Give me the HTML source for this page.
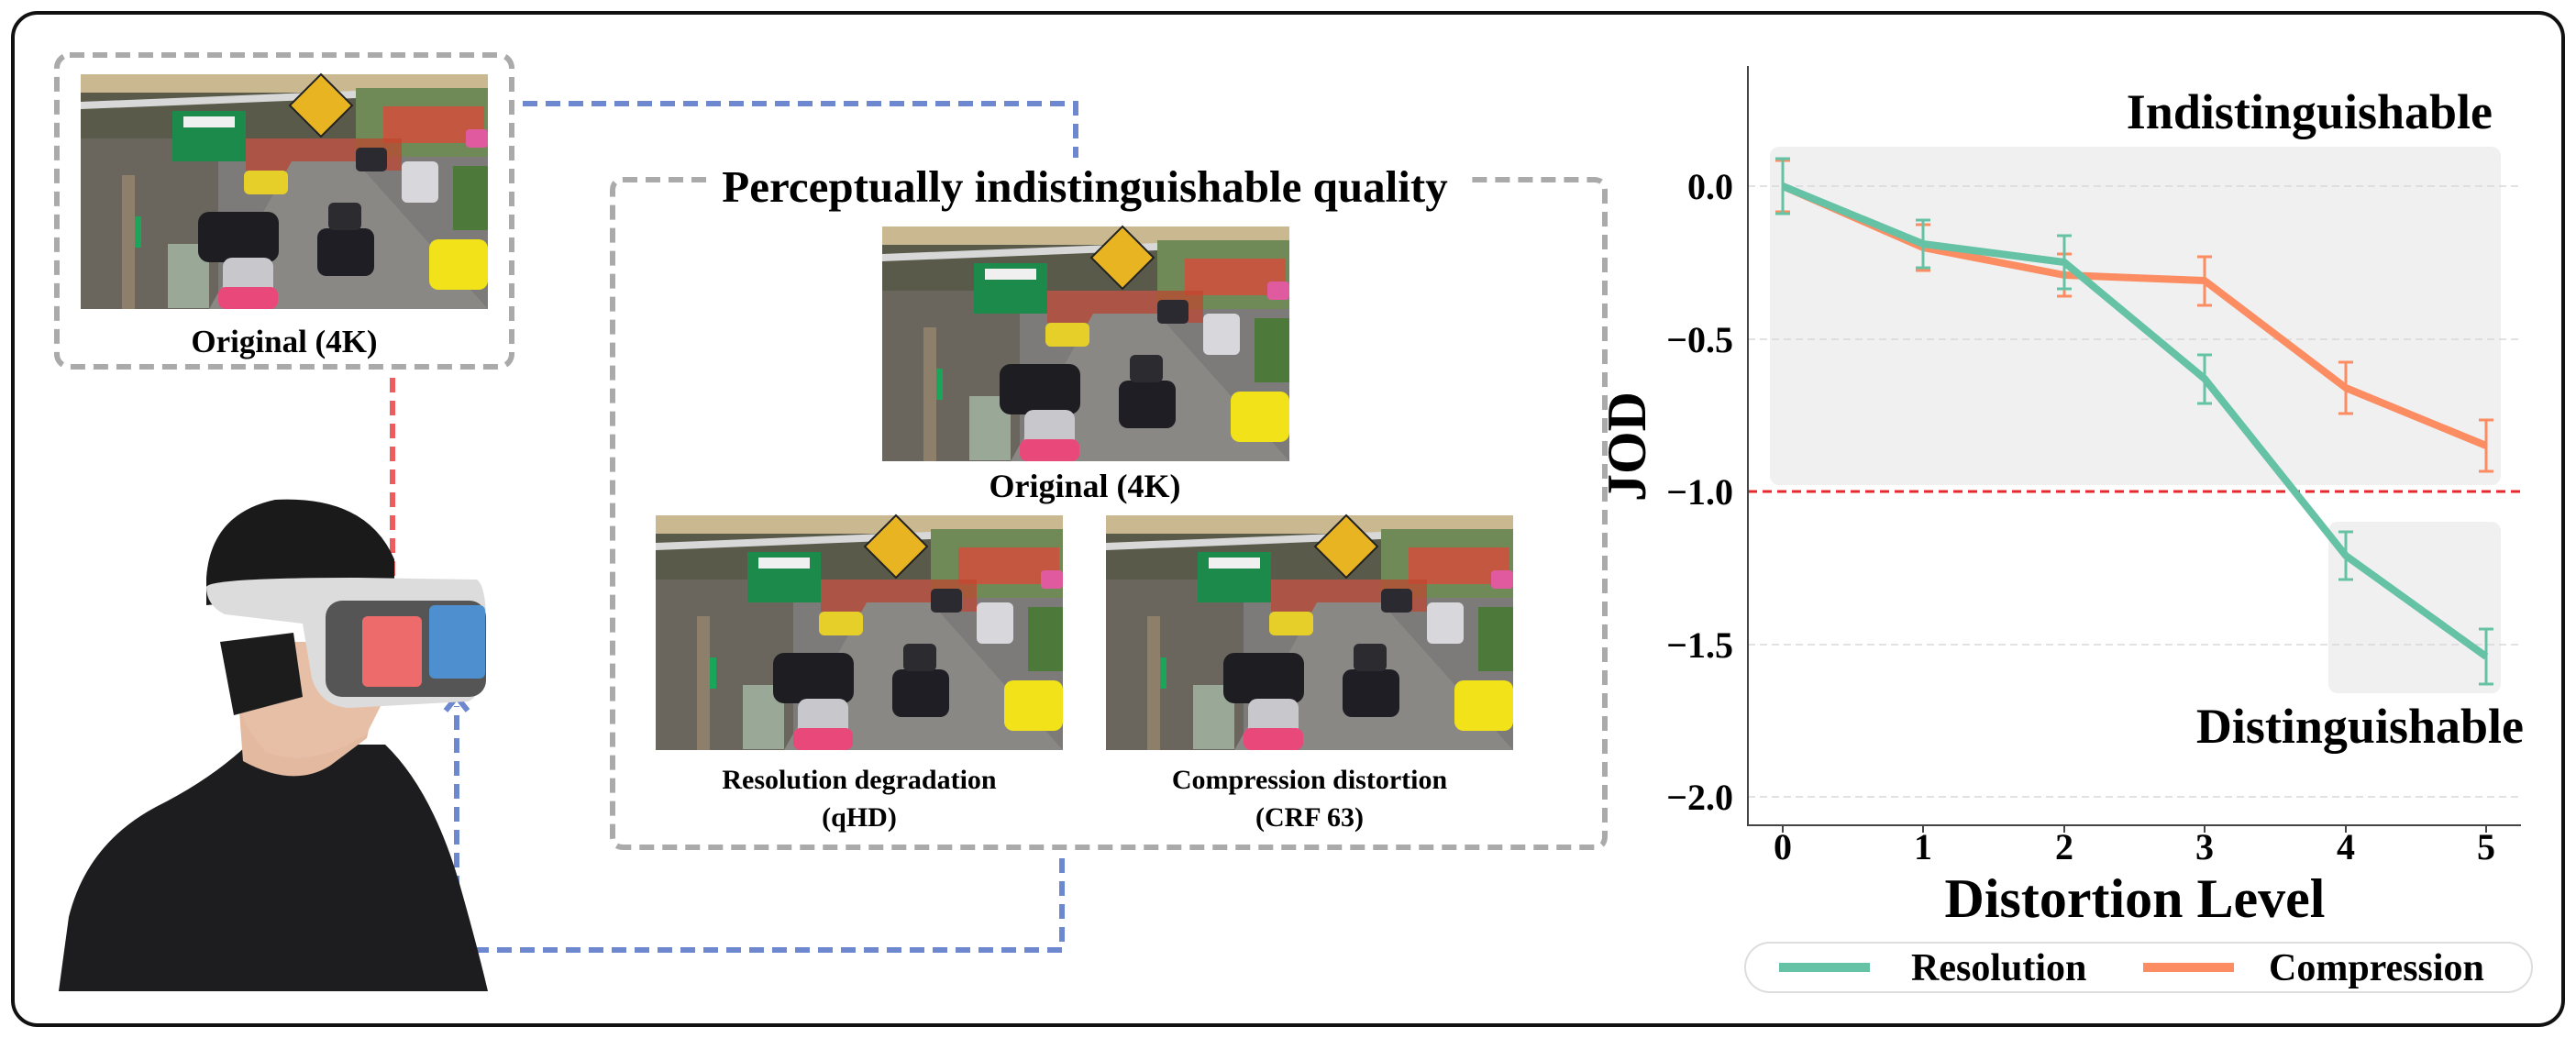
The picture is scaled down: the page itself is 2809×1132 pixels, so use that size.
<!DOCTYPE html>
<html><head><meta charset="utf-8"><style>
html,body{margin:0;padding:0;background:#fff;}
svg{display:block;}
text{font-family:"Liberation Serif",serif;font-weight:bold;fill:#000;}
</style></head><body>
<svg width="2809" height="1132" viewBox="0 0 2809 1132" xmlns="http://www.w3.org/2000/svg">
<defs>
<g id="scene">
  <rect x="0" y="0" width="444" height="256" fill="#7d7b7a"/>
  <rect x="0" y="0" width="444" height="70" fill="#5a5a4a"/>
  <rect x="0" y="0" width="444" height="20" fill="#c9b890"/>
  <polygon points="0,30 300,18 300,26 0,38" fill="#d8d8d8"/>
  <rect x="300" y="15" width="144" height="75" fill="#6f8a56"/>
  <rect x="330" y="35" width="110" height="40" fill="#d94a3a" opacity="0.8"/>
  <rect x="0" y="70" width="150" height="186" fill="#6a665e"/>
  <rect x="100" y="40" width="80" height="55" fill="#1c8a4a"/>
  <rect x="112" y="46" width="56" height="12" fill="#f0f0f0"/>
  <polygon points="262,0 296,34 262,68 228,34" fill="#e8b421" stroke="#222" stroke-width="2"/>
  <rect x="180" y="70" width="170" height="35" fill="#c0452f" opacity="0.7"/>
  <polygon points="140,256 230,95 300,95 444,256" fill="#8a8885"/>
  <rect x="95" y="185" width="45" height="70" fill="#9aa898"/>
  <rect x="48" y="155" width="18" height="34" fill="#1aa55a"/>
  <rect x="45" y="110" width="14" height="146" fill="#8d7f6a"/>
  <rect x="128" y="150" width="88" height="55" rx="12" fill="#1e1e22"/>
  <rect x="178" y="105" width="48" height="26" rx="6" fill="#e5cf28"/>
  <rect x="155" y="200" width="55" height="45" rx="10" fill="#c8c8cc"/>
  <rect x="150" y="232" width="65" height="24" rx="8" fill="#e8487a"/>
  <rect x="258" y="168" width="62" height="52" rx="10" fill="#1e1e24"/>
  <rect x="270" y="140" width="36" height="30" rx="6" fill="#2b2b30"/>
  <rect x="350" y="95" width="40" height="45" rx="6" fill="#d8d8dc"/>
  <rect x="380" y="180" width="64" height="55" rx="10" fill="#f1e21a"/>
  <rect x="300" y="80" width="34" height="26" rx="5" fill="#2a2a30"/>
  <rect x="420" y="60" width="24" height="20" rx="4" fill="#e05aa0"/>
  <rect x="406" y="100" width="38" height="70" fill="#4d7a3a"/>
</g>
</defs>

<rect x="14" y="14" width="2781" height="1104" rx="27" fill="none" stroke="#111" stroke-width="4"/>

<rect x="62" y="60" width="496" height="340" rx="14" fill="none" stroke="#aaa" stroke-width="6" stroke-dasharray="16,9"/>
<use href="#scene" x="88" y="81"/>
<text x="310" y="384" font-size="35" text-anchor="middle">Original (4K)</text>

<polyline points="570,113 1173,113 1173,172" fill="none" stroke="#6d88cf" stroke-width="6" stroke-dasharray="16,9"/>
<line x1="428" y1="412" x2="428" y2="650" stroke="#ee5d5d" stroke-width="6" stroke-dasharray="16,9"/>
<polyline points="414,640 428,660 442,640" fill="none" stroke="#ee5d5d" stroke-width="6"/>

<path d="M 770 196 L 680 196 Q 668 196 668 208 L 668 912 Q 668 924 680 924 L 1738 924 Q 1750 924 1750 912 L 1750 208 Q 1750 196 1738 196 L 1598 196" fill="none" stroke="#aaa" stroke-width="6" stroke-dasharray="16,9"/>
<text x="1183" y="220" font-size="49" text-anchor="middle">Perceptually indistinguishable quality</text>
<use href="#scene" x="962" y="247"/>
<text x="1183" y="542" font-size="36" text-anchor="middle">Original (4K)</text>
<use href="#scene" x="715" y="562"/>
<use href="#scene" x="1206" y="562"/>
<text x="937" y="860" font-size="30" text-anchor="middle">Resolution degradation</text>
<text x="937" y="901" font-size="30" text-anchor="middle">(qHD)</text>
<text x="1428" y="860" font-size="30" text-anchor="middle">Compression distortion</text>
<text x="1428" y="901" font-size="30" text-anchor="middle">(CRF 63)</text>

<polyline points="1158,936 1158,1036 498,1036 498,770" fill="none" stroke="#6d88cf" stroke-width="6" stroke-dasharray="16,9"/>
<polyline points="486,775 498,760 510,775" fill="none" stroke="#6d88cf" stroke-width="6"/>

<!-- person -->
<path d="M 64 1081 L 75 1000 Q 95 920 170 880 Q 230 850 270 812 L 420 812 Q 470 860 500 960 Q 520 1030 532 1081 Z" fill="#1d1d1f"/>
<path d="M 262 790 L 265 830 Q 320 860 360 835 L 400 805 L 410 760 L 260 760 Z" fill="#e3b9a0"/>
<path d="M 250 700 Q 245 770 290 820 Q 340 840 400 800 L 420 760 L 420 700 Z" fill="#e6bfa6"/>
<path d="M 225 630 Q 230 560 300 545 Q 400 540 430 610 L 430 640 L 225 660 Z" fill="#1a1a1a"/>
<path d="M 240 700 L 255 780 L 330 760 L 320 690 Z" fill="#1c1c1c"/>
<path d="M 225 640 Q 230 630 390 630 L 520 632 Q 532 640 530 700 Q 528 760 510 765 L 380 772 Q 350 770 340 740 L 330 680 L 245 670 Q 225 660 225 640 Z" fill="#dcdcdc"/>
<rect x="355" y="655" width="175" height="105" rx="18" fill="#555"/>
<rect x="395" y="672" width="65" height="77" rx="6" fill="#ee6b6b"/>
<rect x="468" y="660" width="61" height="80" rx="6" fill="#4e8fcf"/>

<!-- chart -->
<rect x="1930" y="160" width="797" height="369" rx="10" fill="#f0f0f0"/>
<rect x="2539" y="569" width="188" height="187" rx="10" fill="#f0f0f0"/>
<g stroke="#d8d8d8" stroke-width="1.5" stroke-dasharray="8,5">
<line x1="1906" y1="203" x2="2749" y2="203"/>
<line x1="1906" y1="370" x2="2749" y2="370"/>
<line x1="1906" y1="703" x2="2749" y2="703"/>
<line x1="1906" y1="869" x2="2749" y2="869"/>
</g>
<line x1="1906" y1="536" x2="2749" y2="536" stroke="#e8282a" stroke-width="3" stroke-dasharray="10,6"/>
<polyline points="1906,72 1906,900 2749,900" fill="none" stroke="#444" stroke-width="2"/>
<g stroke="#444" stroke-width="2">
<line x1="1944" y1="900" x2="1944" y2="908"/><line x1="2097" y1="900" x2="2097" y2="908"/>
<line x1="2251" y1="900" x2="2251" y2="908"/><line x1="2404" y1="900" x2="2404" y2="908"/>
<line x1="2558" y1="900" x2="2558" y2="908"/><line x1="2711" y1="900" x2="2711" y2="908"/>
</g>
<g font-size="40" text-anchor="end">
<text x="1890" y="217">0.0</text>
<text x="1890" y="384">−0.5</text>
<text x="1890" y="550">−1.0</text>
<text x="1890" y="717">−1.5</text>
<text x="1890" y="883">−2.0</text>
</g>
<g font-size="40" text-anchor="middle">
<text x="1944" y="937">0</text><text x="2097" y="937">1</text><text x="2251" y="937">2</text>
<text x="2404" y="937">3</text><text x="2558" y="937">4</text><text x="2711" y="937">5</text>
</g>
<text x="2328" y="1000" font-size="60" text-anchor="middle">Distortion Level</text>
<text transform="translate(1794,487) rotate(-90)" font-size="60" text-anchor="middle">JOD</text>
<text x="2718" y="140" font-size="54" text-anchor="end">Indistinguishable</text>
<text x="2752" y="810" font-size="54" text-anchor="end">Distinguishable</text>

<g stroke="#fc8d62" stroke-width="3" fill="none">
<path d="M1944,175V231M1936,175H1952M1936,231H1952"/>
<path d="M2097,245V295M2089,245H2105M2089,295H2105"/>
<path d="M2251,277V323M2243,277H2259M2243,323H2259"/>
<path d="M2404,280V333M2396,280H2412M2396,333H2412"/>
<path d="M2558,395V451M2550,395H2566M2550,451H2566"/>
<path d="M2711,458V514M2703,458H2719M2703,514H2719"/>
</g>
<polyline points="1944,203 2097,270 2251,300 2404,306 2558,423 2711,486" fill="none" stroke="#fc8d62" stroke-width="8" stroke-linejoin="round"/>
<g stroke="#66c2a5" stroke-width="3" fill="none">
<path d="M1944,173V233M1936,173H1952M1936,233H1952"/>
<path d="M2097,240V292M2089,240H2105M2089,292H2105"/>
<path d="M2251,257V315M2243,257H2259M2243,315H2259"/>
<path d="M2404,387V440M2396,387H2412M2396,440H2412"/>
<path d="M2558,580V632M2550,580H2566M2550,632H2566"/>
<path d="M2711,686V746M2703,686H2719M2703,746H2719"/>
</g>
<polyline points="1944,203 2097,266 2251,286 2404,413 2558,606 2711,716" fill="none" stroke="#66c2a5" stroke-width="8" stroke-linejoin="round"/>

<rect x="1903" y="1028" width="858" height="54" rx="27" fill="#fff" stroke="#ddd" stroke-width="2"/>
<line x1="1940" y1="1055" x2="2039" y2="1055" stroke="#66c2a5" stroke-width="10"/>
<text x="2084" y="1069" font-size="42">Resolution</text>
<line x1="2337" y1="1055" x2="2436" y2="1055" stroke="#fc8d62" stroke-width="10"/>
<text x="2474" y="1069" font-size="42">Compression</text>
</svg>
</body></html>
